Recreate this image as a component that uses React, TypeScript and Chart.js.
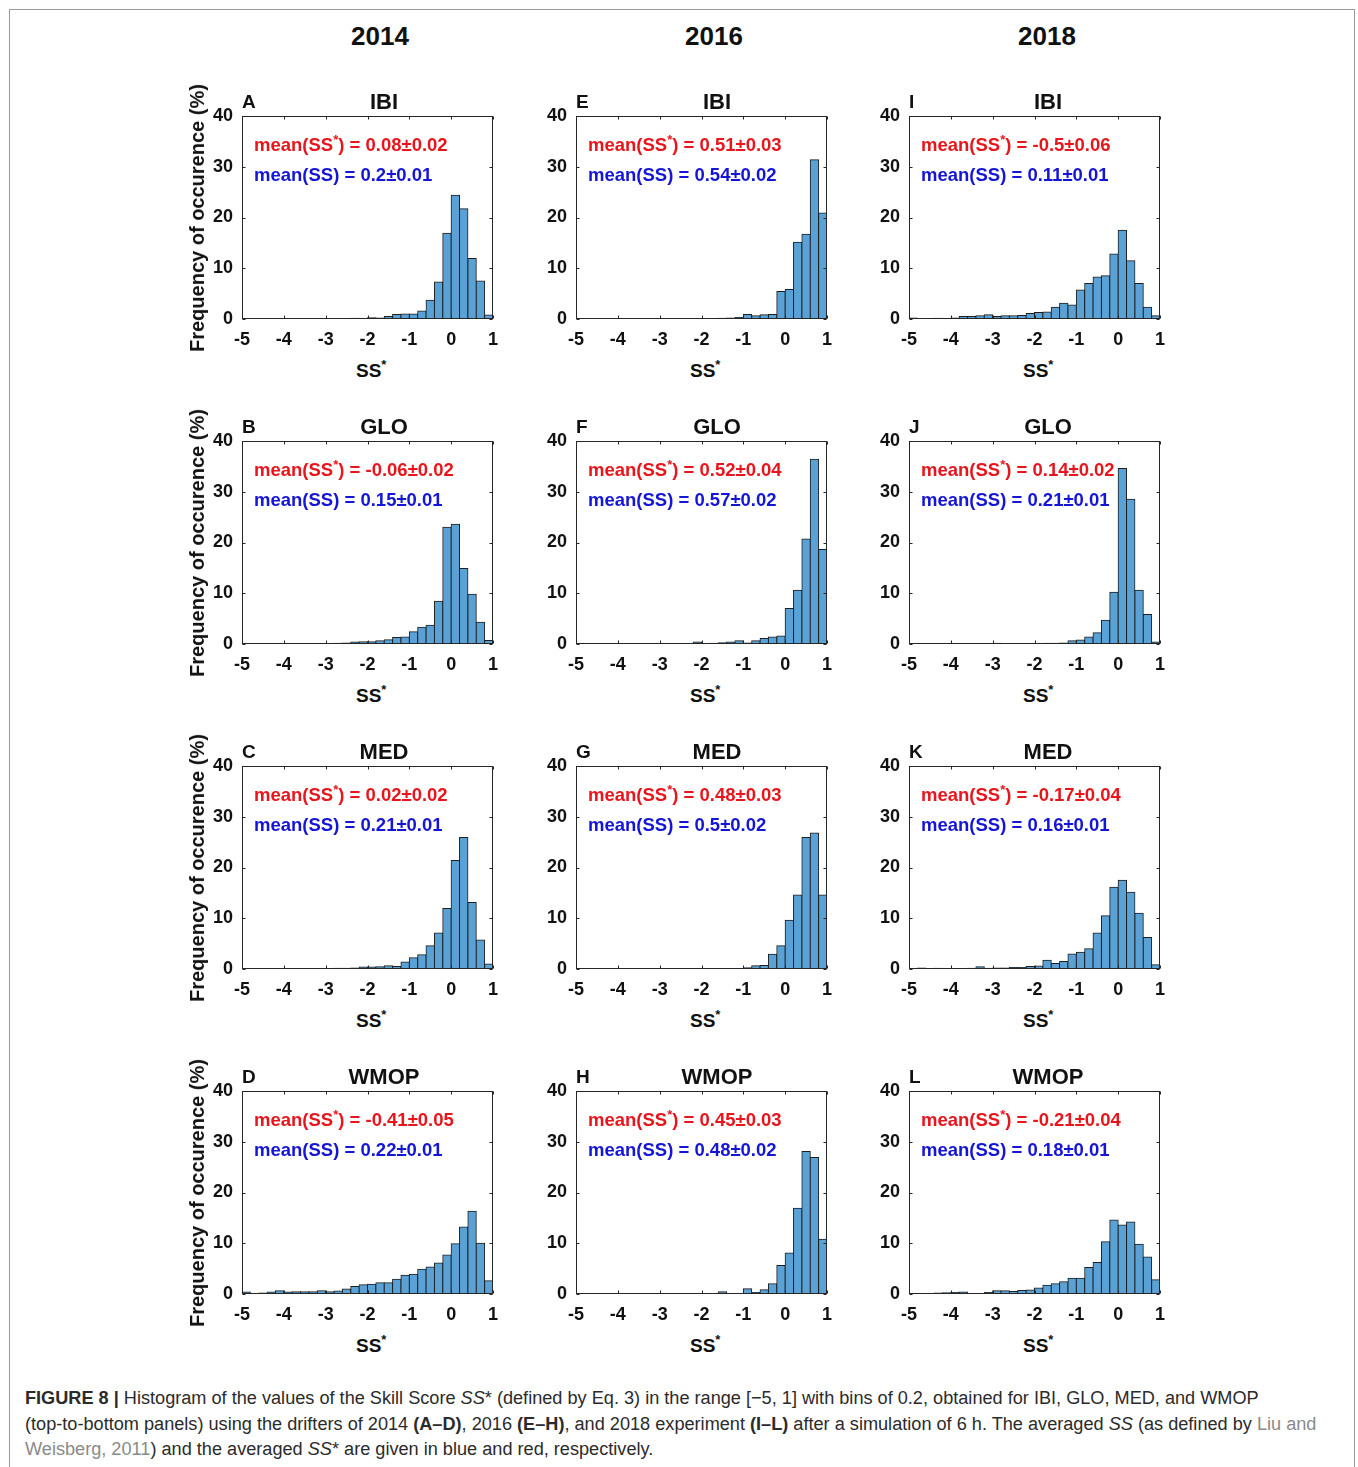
import React, { useEffect, useRef } from 'react';
import { Chart, registerables } from 'chart.js';
Chart.register(...registerables);

// ---------- data ----------
const years = ['2014', '2016', '2018'];
const regions = ['IBI', 'GLO', 'MED', 'WMOP'];
const letters = [['A', 'E', 'I'], ['B', 'F', 'J'], ['C', 'G', 'K'], ['D', 'H', 'L']];
const binCenters = [
  -4.9, -4.7, -4.5, -4.3, -4.1, -3.9, -3.7, -3.5, -3.3, -3.1,
  -2.9, -2.7, -2.5, -2.3, -2.1, -1.9, -1.7, -1.5, -1.3, -1.1,
  -0.9, -0.7, -0.5, -0.3, -0.1, 0.1, 0.3, 0.5, 0.7, 0.9,
];
const xTickValues = [-5, -4, -3, -2, -1, 0, 1];
const yTickValues = [0, 10, 20, 30, 40];

const ibi2014 = [0.05, 0.05, 0.05, 0.05, 0.05, 0.05, 0.1, 0.05, 0.1, 0.1, 0.1, 0.1, 0.1, 0.15, 0.1, 0.25, 0.2, 0.5, 0.9, 1.0, 1.0, 1.6, 3.7, 7.3, 16.9, 24.4, 21.7, 11.9, 7.5, 0.8];
const ibi2016 = [0, 0, 0, 0, 0, 0, 0, 0, 0, 0, 0, 0, 0, 0, 0, 0, 0, 0.15, 0.2, 0.3, 0.9, 0.65, 0.85, 0.9, 5.4, 5.8, 15.1, 16.7, 31.4, 20.9];
const ibi2018 = [0.2, 0.05, 0.1, 0.15, 0.1, 0.2, 0.5, 0.5, 0.65, 0.85, 0.5, 0.65, 0.65, 0.7, 1.1, 1.3, 1.4, 2.3, 3.1, 2.75, 5.7, 7.0, 8.3, 8.5, 12.8, 17.5, 11.5, 7.0, 2.3, 0.65];
const glo2014 = [0, 0, 0, 0, 0, 0, 0, 0, 0.05, 0.1, 0.1, 0.15, 0.2, 0.4, 0.45, 0.45, 0.65, 0.85, 1.3, 1.4, 2.4, 3.3, 3.7, 8.4, 23.0, 23.6, 14.9, 9.8, 4.3, 0.7];
const glo2016 = [0, 0, 0, 0, 0, 0, 0, 0, 0, 0, 0, 0, 0, 0, 0.4, 0.1, 0.15, 0.25, 0.4, 0.65, 0.2, 0.65, 1.1, 1.4, 1.6, 7.0, 10.6, 20.7, 36.4, 18.6];
const glo2018 = [0, 0, 0, 0.05, 0.05, 0.05, 0.05, 0.1, 0.05, 0.1, 0.15, 0.05, 0.05, 0.05, 0.1, 0.1, 0.15, 0.15, 0.2, 0.65, 0.8, 1.4, 2.2, 4.7, 10.2, 34.6, 28.5, 10.6, 5.8, 0.4];
const med2014 = [0.05, 0.05, 0.05, 0.05, 0.05, 0.05, 0.05, 0.05, 0.05, 0.1, 0.1, 0.15, 0.15, 0.2, 0.4, 0.4, 0.45, 0.65, 0.5, 1.4, 2.2, 2.8, 4.6, 7.1, 11.9, 21.4, 25.9, 13.1, 5.7, 1.0];
const med2016 = [0, 0, 0, 0, 0, 0, 0, 0, 0, 0, 0, 0, 0, 0, 0, 0, 0, 0, 0, 0, 0.25, 0.65, 0.7, 2.9, 4.6, 9.6, 14.6, 25.9, 26.8, 14.6];
const med2018 = [0.1, 0.2, 0.1, 0.15, 0.05, 0.1, 0.1, 0.15, 0.45, 0.15, 0.2, 0.2, 0.3, 0.3, 0.5, 0.6, 1.7, 1.1, 1.5, 2.95, 3.3, 4.0, 7.1, 10.5, 16.1, 17.5, 15.1, 11.0, 6.2, 0.85];
const wmop2014 = [0.4, 0.1, 0.2, 0.4, 0.65, 0.4, 0.45, 0.45, 0.45, 0.65, 0.45, 0.6, 1.0, 1.5, 1.8, 1.9, 2.2, 2.2, 2.9, 3.7, 3.9, 4.9, 5.3, 6.1, 7.7, 9.9, 13.2, 16.3, 10.0, 2.6];
const wmop2016 = [0, 0, 0, 0, 0, 0, 0, 0, 0, 0, 0, 0, 0, 0, 0, 0, 0, 0.45, 0, 0, 1.05, 0.3, 0.85, 2.0, 5.6, 8.1, 16.9, 28.1, 26.9, 10.8];
const wmop2018 = [0, 0, 0.05, 0.2, 0.25, 0.3, 0.4, 0, 0, 0.3, 0.65, 0.65, 0.5, 0.7, 0.8, 1.2, 1.7, 2.0, 2.4, 3.1, 3.1, 5.2, 6.2, 10.3, 14.6, 13.6, 14.2, 9.8, 7.3, 2.8];

const histograms = [
  [ibi2014, ibi2016, ibi2018],
  [glo2014, glo2016, glo2018],
  [med2014, med2016, med2018],
  [wmop2014, wmop2016, wmop2018],
];
const meanSSstar = [
  ['0.08±0.02', '0.51±0.03', '-0.5±0.06'],
  ['-0.06±0.02', '0.52±0.04', '0.14±0.02'],
  ['0.02±0.02', '0.48±0.03', '-0.17±0.04'],
  ['-0.41±0.05', '0.45±0.03', '-0.21±0.04'],
];
const meanSS = [
  ['0.2±0.01', '0.54±0.02', '0.11±0.01'],
  ['0.15±0.01', '0.57±0.02', '0.21±0.01'],
  ['0.21±0.01', '0.5±0.02', '0.16±0.01'],
  ['0.22±0.01', '0.48±0.02', '0.18±0.01'],
];

// ---------- layout ----------
const FONT = '"Liberation Sans", Arial, Helvetica, sans-serif';
const COL_LEFT = [242, 576, 909];
const ROW_TOP = [116, 441, 766, 1091];
const TITLE_X = [384, 717, 1048];
const YEAR_X = [380, 714, 1047];
const PW = 251;
const PH = 203;
const Y_AXIS_W = 50;
const X_AXIS_H = 34;
const PAD_T = 24;
const PAD_R = 22;
const BAR_FILL = '#5aa2d5';
const BAR_EDGE = '#1e1e1e';
const AXIS_COLOR = '#262626';

const boxPlugin = {
  id: 'matlabBox',
  afterDatasetsDraw(chart: any) {
    const { ctx, chartArea: a, scales } = chart;
    ctx.save();
    ctx.strokeStyle = AXIS_COLOR;
    ctx.lineWidth = 1;
    const l = Math.round(a.left) + 0.5;
    const r = Math.round(a.right) - 0.5;
    const t = Math.round(a.top) + 0.5;
    const b = Math.round(a.bottom) - 0.5;
    ctx.strokeRect(l, t, r - l, b - t);
    const tl = 3;
    ctx.beginPath();
    for (const v of xTickValues) {
      const px = Math.round(scales.x.getPixelForValue(v)) + 0.5;
      ctx.moveTo(px, b); ctx.lineTo(px, b - tl);
      ctx.moveTo(px, t); ctx.lineTo(px, t + tl);
    }
    for (const v of yTickValues) {
      const py = Math.round(scales.y.getPixelForValue(v)) + 0.5;
      ctx.moveTo(l, py); ctx.lineTo(l + tl, py);
      ctx.moveTo(r, py); ctx.lineTo(r - tl, py);
    }
    ctx.stroke();
    ctx.restore();
  },
};

function Panel({ values, left, top }: { values: number[]; left: number; top: number }) {
  const ref = useRef<HTMLCanvasElement>(null);
  const cw = PW + Y_AXIS_W + PAD_R;
  const chh = PH + PAD_T + X_AXIS_H;
  useEffect(() => {
    if (!ref.current) return;
    const tickFont = { family: FONT, size: 18, weight: 'bold' as const };
    const chart = new Chart(ref.current, {
      type: 'bar',
      data: {
        datasets: [
          {
            data: binCenters.map((c, i) => ({ x: c, y: values[i] })),
            backgroundColor: BAR_FILL,
            borderColor: BAR_EDGE,
            borderWidth: 1,
            inflateAmount: 0.5,
            barPercentage: 1,
            categoryPercentage: 1,
            borderSkipped: 'start',
          } as any,
        ],
      },
      options: {
        responsive: false,
        animation: false,
        events: [],
        layout: { padding: { left: 0, right: PAD_R, top: PAD_T, bottom: 0 } },
        plugins: { legend: { display: false }, tooltip: { enabled: false } },
        scales: {
          x: {
            type: 'linear',
            min: -5,
            max: 1,
            offset: false,
            grid: { display: false, drawTicks: false },
            border: { display: false },
            ticks: {
              stepSize: 1,
              padding: 10,
              color: '#111',
              font: tickFont,
              autoSkip: false,
              maxRotation: 0,
              callback: (v: any) => String(v),
            },
            afterFit: (s: any) => { s.height = X_AXIS_H; },
          },
          y: {
            min: 0,
            max: 40,
            grid: { display: false, drawTicks: false },
            border: { display: false },
            ticks: {
              stepSize: 10,
              padding: 9,
              color: '#111',
              font: tickFont,
              callback: (v: any) => String(v),
            },
            afterFit: (s: any) => { s.width = Y_AXIS_W; },
          },
        },
      } as any,
      plugins: [boxPlugin],
    });
    return () => chart.destroy();
  }, [values]);
  return (
    <canvas
      ref={ref}
      width={cw}
      height={chh}
      style={{ position: 'absolute', left: left - Y_AXIS_W, top: top - PAD_T, width: cw, height: chh }}
    />
  );
}

const abs = (x: number, y: number, extra: React.CSSProperties = {}): React.CSSProperties => ({
  position: 'absolute',
  left: x,
  top: y,
  lineHeight: 1,
  whiteSpace: 'nowrap',
  fontFamily: FONT,
  fontWeight: 'bold',
  ...extra,
});

export default function App() {
  const items: React.ReactNode[] = [];
  years.forEach((yr, c) => {
    items.push(
      <div key={'yr' + c} style={abs(YEAR_X[c], 36, { fontSize: 26, color: '#111', transform: 'translate(-50%,-50%)' })}>
        {yr}
      </div>
    );
  });
  regions.forEach((reg, r) => {
    years.forEach((_, c) => {
      const L = COL_LEFT[c];
      const T = ROW_TOP[r];
      const k = r + '-' + c;
      items.push(<Panel key={'p' + k} values={histograms[r][c]} left={L} top={T} />);
      items.push(
        <div key={'t' + k} style={abs(TITLE_X[c], T - 14, { fontSize: 22, color: '#111', transform: 'translate(-50%,-50%)' })}>
          {reg}
        </div>
      );
      items.push(
        <div key={'l' + k} style={abs(L, T - 15, { fontSize: 19, color: '#111', transform: 'translateY(-50%)' })}>
          {letters[r][c]}
        </div>
      );
      items.push(
        <div key={'r' + k} style={abs(L + 12, T + 29, { fontSize: 18.5, color: '#e8161c', transform: 'translateY(-50%)' })}>
          mean(SS<sup style={{ fontSize: 13, verticalAlign: 0, position: 'relative', top: -7 }}>*</sup>) = {meanSSstar[r][c]}
        </div>
      );
      items.push(
        <div key={'b' + k} style={abs(L + 12, T + 59, { fontSize: 18.5, color: '#1515d8', transform: 'translateY(-50%)' })}>
          mean(SS) = {meanSS[r][c]}
        </div>
      );
      items.push(
        <div key={'x' + k} style={abs(L + 114, T + PH + 51, { fontSize: 19, color: '#111', transform: 'translateY(-50%)' })}>
          SS<sup style={{ fontSize: 13, verticalAlign: 0, position: 'relative', top: -8 }}>*</sup>
        </div>
      );
      if (c === 0) {
        items.push(
          <div key={'y' + k} style={abs(197, T + PH / 2, { fontSize: 20, color: '#111', transform: 'translate(-50%,-50%) rotate(-90deg)' })}>
            Frequency of occurence (%)
          </div>
        );
      }
    });
  });

  const gray = { color: '#8a8a8a' };
  return (
    <div style={{ position: 'absolute', left: 0, top: 0, width: 1358, height: 1467, overflow: 'hidden', background: '#fff' }}>
      <div style={{ position: 'absolute', left: 9, top: 9, width: 1346, height: 1480, border: '1px solid #9a9a9a', boxSizing: 'border-box' }} />
      {items}
      <div
        style={{
          position: 'absolute',
          left: 25,
          top: 1386,
          fontFamily: FONT,
          fontSize: 18.15,
          lineHeight: '25.5px',
          color: '#2b2b2b',
          whiteSpace: 'nowrap',
        }}
      >
        <b>FIGURE 8 |</b> Histogram of the values of the Skill Score <i>SS</i>* (defined by Eq. 3) in the range [−5, 1] with bins of 0.2, obtained for IBI, GLO, MED, and WMOP
        <br />
        (top-to-bottom panels) using the drifters of 2014 <b>(A–D)</b>, 2016 <b>(E–H)</b>, and 2018 experiment <b>(I–L)</b> after a simulation of 6 h. The averaged <i>SS</i> (as defined by <span style={gray}>Liu and</span>
        <br />
        <span style={gray}>Weisberg, 2011</span>) and the averaged <i>SS</i>* are given in blue and red, respectively.
      </div>
    </div>
  );
}
